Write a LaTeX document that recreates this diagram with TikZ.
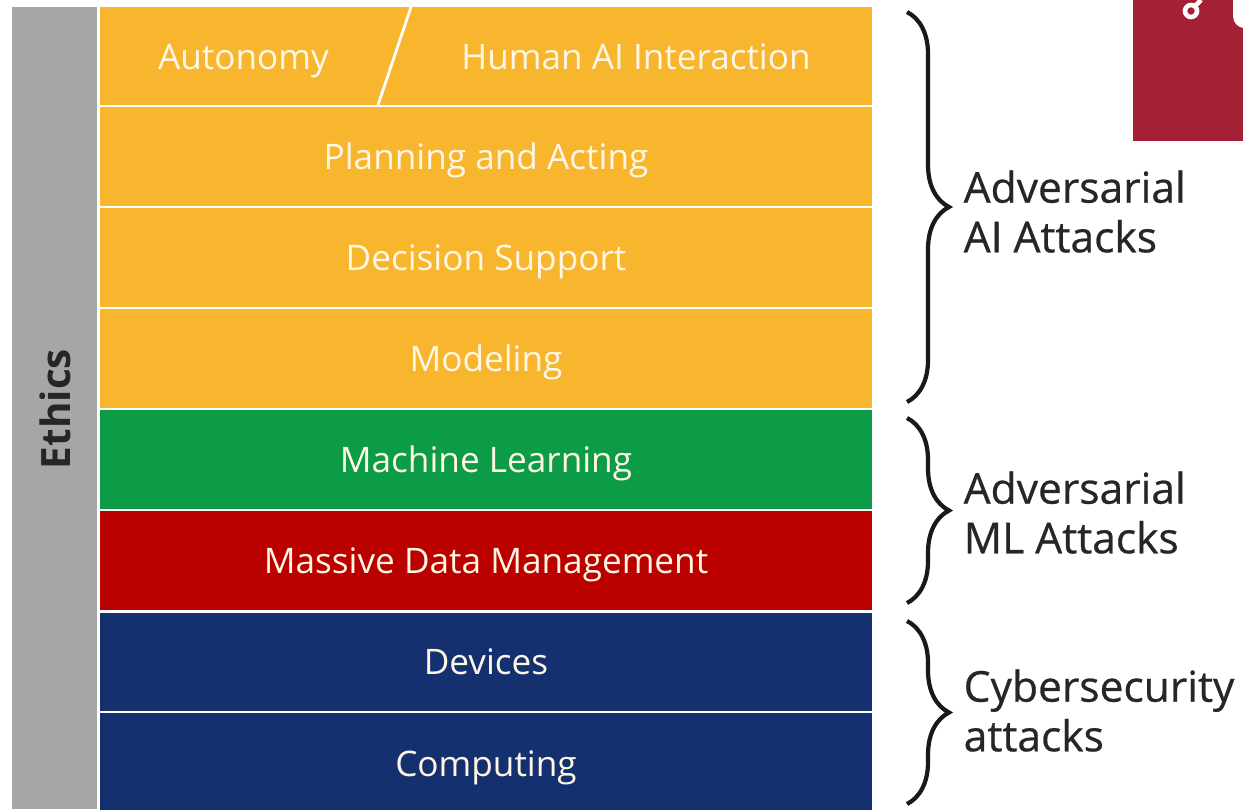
\documentclass[tikz,border=0pt]{standalone}
\usepackage{fontspec}
\setmainfont{Open Sans}
\newfontfamily\sidefont[FakeBold=0.6]{Open Sans}
\usetikzlibrary{decorations.pathreplacing}
\definecolor{amberfill}{HTML}{F8B62E}
\definecolor{greenfill}{HTML}{0C9C47}
\definecolor{redfill}{HTML}{BB0000}
\definecolor{bluefill}{HTML}{15306F}
\definecolor{greyfill}{HTML}{A6A6A6}
\definecolor{badgefill}{HTML}{A32035}
\definecolor{labeltext}{HTML}{FFF6E6}
\tikzstyle{layer} = [inner sep=0pt,minimum width=7.72cm,text=labeltext,text height=7.2pt,text depth=0pt,font=\fontsize{10}{12}\selectfont]
\tikzstyle{side} = [anchor=west,align=left,inner sep=0pt,text=black!85,font=\sidefont\fontsize{12.1}{14.1}\selectfont]
\tikzstyle{bracket} = [draw=black!90,line width=1.2pt,decorate,decoration={brace,amplitude=0.42cm}]

\begin{document}
\begin{tikzpicture}[x=0.01cm,y=-0.01cm]
      \useasboundingbox (0,0) rectangle (1243,809);
      % left bar
      \node[inner sep=0pt,minimum width=0.85cm,minimum height=8.02cm,fill=greyfill] (ethicsbar) at (54.5,408) {};
      \node[rotate=90,inner sep=0pt,text=black!85,font=\fontsize{11.5}{14}\selectfont\bfseries] (ethics) at (55,409) {Ethics};
      % layers
      \foreach \nodename/\y/\h/\fillname/\name in {
        toprow/56/0.98/amberfill/{},
        planning/156.5/0.99/amberfill/Planning and Acting,
        decision/257.5/0.99/amberfill/Decision Support,
        modeling/358.5/0.99/amberfill/Modeling,
        learning/459.5/0.99/greenfill/Machine Learning,
        data/560.5/0.99/redfill/Massive Data Management,
        devices/662/0.98/bluefill/Devices,
        computing/764/1.02/bluefill/Computing}
      {
        \node[layer,minimum height=\h cm,fill=\fillname] (\nodename) at (486,\y) {\name};
      };
      \node[layer,minimum width=0pt] (autonomy) at (243.5,56.5) {Autonomy};
      \node[layer,minimum width=0pt] (interaction) at (636,56.5) {Human AI Interaction};
      \coordinate (slashtop) at (411,7);
      \coordinate (slashend) at (378,105);
      \draw[white,line width=0.8pt] (slashtop) -- (slashend);
      % braces
      \coordinate (aitop) at (907,12);
      \coordinate (aiend) at (907,402);
      \coordinate (mltop) at (907,418);
      \coordinate (mlend) at (907,603);
      \coordinate (cybertop) at (907,621);
      \coordinate (cyberend) at (907,804);
      \path
      \foreach \startnode/\endnode in {aitop/aiend, mltop/mlend, cybertop/cyberend}
      {
        (\startnode) edge[bracket] (\endnode)
      };
      \node[side] (aiattacks) at (963,211.5) {Adversarial\\AI Attacks};
      \node[side] (mlattacks) at (963,512.5) {Adversarial\\ML Attacks};
      \node[side] (cyberattacks) at (963,710.5) {Cybersecurity\\attacks};
      % corner badge
      \fill[badgefill] (1133,0) rectangle (1243,141);
      \draw[white,line width=1.3pt] (1191,11) circle (6);
      \draw[white,line width=1.3pt] (1195,6) -- (1201,0);
      \fill[white] (1233,0) -- (1233,16) .. controls (1233,23) and (1238,27) .. (1243,28) -- (1243,0) -- cycle;
    \end{tikzpicture}
\end{document}
